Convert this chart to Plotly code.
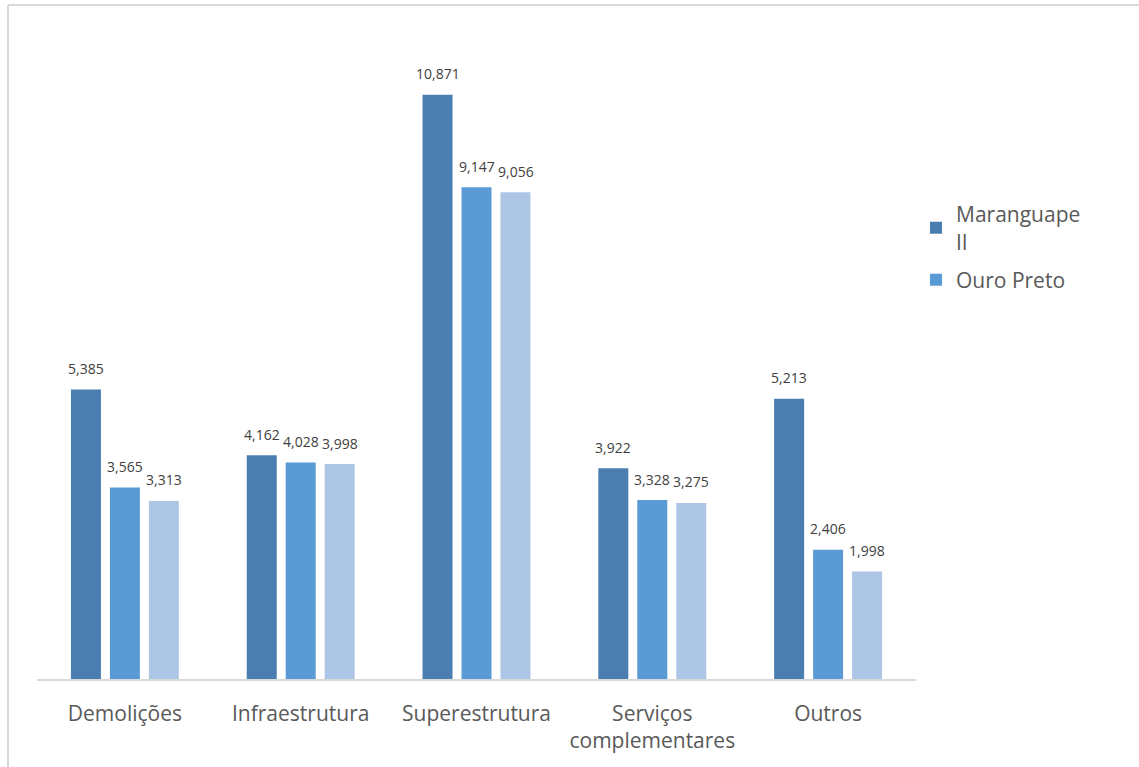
import plotly.graph_objects as go

categories = ["Demolições", "Infraestrutura", "Superestrutura", "Serviços<br>complementares", "Outros"]
series_names = ["Maranguape<br>II", "Ouro Preto", "Série 3"]
maranguape = [5385, 4162, 10871, 3922, 5213]
ouro_preto = [3565, 4028, 9147, 3328, 2406]
serie3 = [3313, 3998, 9056, 3275, 1998]
colors = ["#4A7EB1", "#5B9BD5", "#ADC6E6"]
show_leg = [True, True, False]

W, H = 1139, 767
ml, mr, mt, mb = 37, 223, 34, 88
FONT = "Open Sans, Lato, sans-serif"

fig = go.Figure()
all_vals = [maranguape, ouro_preto, serie3]
for i, (name, vals, col, sl) in enumerate(zip(series_names, all_vals, colors, show_leg)):
    fig.add_trace(go.Bar(
        x=categories, y=vals, name=name, marker_color=col, showlegend=sl,
        marker_line=dict(width=0), legendgroup=f"g{i}",
    ))

# data labels placed above each bar
offsets = [-39, 0, 39]
for vals, off in zip(all_vals, offsets):
    for c, v in zip(categories, vals):
        fig.add_annotation(x=c, y=v, xref="x", yref="y", text=f"{v:,}",
                           showarrow=False, xshift=off, yshift=21, yanchor="middle",
                           font=dict(size=14, color="#404040", family=FONT))

pw = W - ml - mr
ph = H - mt - mb
fig.update_layout(
    width=W, height=H,
    margin=dict(l=ml, r=mr, t=mt, b=mb),
    paper_bgcolor="white", plot_bgcolor="white",
    font=dict(family=FONT, color="#595959"),
    barmode="group", bargap=0.335, bargroupgap=0.23,
    xaxis=dict(showline=True, linecolor="#D9D9D9", linewidth=1.5, ticks="",
               tickfont=dict(size=21, color="#595959"), showgrid=False,
               ticklabelstandoff=15),
    yaxis=dict(range=[0, 12000], visible=False, showgrid=False),
    legend=dict(x=1.0, y=0.752, xanchor="left", yanchor="top",
                font=dict(size=21, color="#595959"), itemsizing="constant",
                tracegroupgap=8, bgcolor="rgba(0,0,0,0)"),
)
# chart-area border (top and left visible)
x_left = (8 - ml) / pw
y_top = 1 + (mt - 5) / ph
fig.add_shape(type="line", xref="paper", yref="paper", x0=x_left, x1=(W - ml) / pw + 0.01,
              y0=y_top, y1=y_top, line=dict(color="#D9D9D9", width=2))
fig.add_shape(type="line", xref="paper", yref="paper", x0=x_left, x1=x_left,
              y0=y_top, y1=-mb / ph - 0.01, line=dict(color="#D9D9D9", width=2))

fig.write_html("out.html")
